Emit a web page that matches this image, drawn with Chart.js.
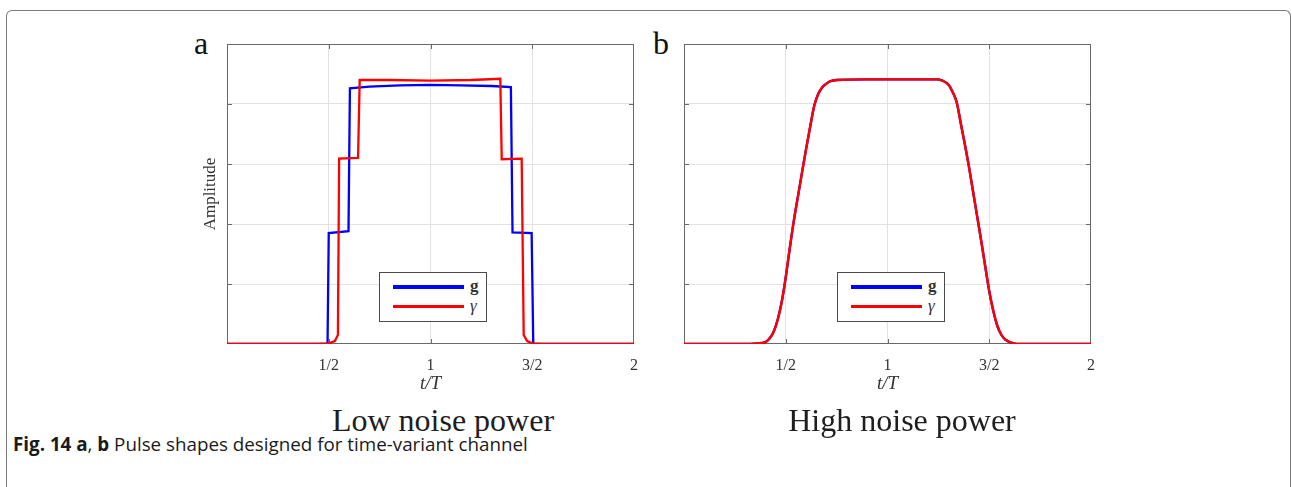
<!DOCTYPE html>
<html lang="en">
<head>
<meta charset="UTF-8">
<title>Pulse shapes designed for time-variant channel</title>
<script src="https://cdn.jsdelivr.net/npm/chart.js"></script>
<style>
    body {
        margin: 0; width: 1292px; height: 487px; overflow: hidden;
        background: #fff; position: relative;
        font-family: 'Liberation Serif', 'DejaVu Serif', serif;
    }
    .frame {
        position: absolute; left: 6px; top: 10px; width: 1283px; height: 520px;
        border: 1px solid #7a7a7a; border-bottom: none; border-radius: 6px 6px 0 0;
    }
    .panel { position: absolute; top: 34px; width: 470px; height: 366px; }
    .tag { position: absolute; top: 27px; font-size: 32px; line-height: 32px; color: #111; }
    .subtitle {
        position: absolute; top: 404px; width: 320px; text-align: center;
        font-size: 32px; line-height: 32px; color: #1e1e1e;
    }
    .legend {
        position: absolute; top: 272px; width: 106px; height: 48px;
        border: 1px solid #4a4a4a; background: #fff;
    }
    .legend .swatch { position: absolute; left: 13px; width: 71px; height: 0; }
    .legend .lab { position: absolute; left: 90px; font-size: 17px; line-height: 17px; color: #333; }
    .caption {
        position: absolute; left: 13px; top: 435px; white-space: nowrap;
        font-family: 'Open Sans', 'Noto Sans', sans-serif; font-size: 18.8px; line-height: 18.8px; color: #1a1a1a;
    }
    .caption b { font-weight: 700; }
</style>
</head>
<body>
<div class="frame"></div>

<div class="tag" style="left:194px;">a</div>
<div class="tag" style="left:653px;">b</div>

<div class="panel" style="left:180px;"><canvas id="lowNoise" width="470" height="366"></canvas></div>
<div class="panel" style="left:637px;"><canvas id="highNoise" width="470" height="366"></canvas></div>

<div class="legend" style="left:379px;">
    <span class="swatch" style="top:12px; border-top:4px solid #0000ff;"></span>
    <span class="lab" style="top:4px; font-weight:bold;">g</span>
    <span class="swatch" style="top:32px; border-top:3px solid #ff0000;"></span>
    <span class="lab" style="top:24px; font-style:italic;">γ</span>
</div>
<div class="legend" style="left:837px;">
    <span class="swatch" style="top:12px; border-top:4px solid #0000ff;"></span>
    <span class="lab" style="top:4px; font-weight:bold;">g</span>
    <span class="swatch" style="top:32px; border-top:3px solid #ff0000;"></span>
    <span class="lab" style="top:24px; font-style:italic;">γ</span>
</div>

<div class="subtitle" style="left:283px;">Low noise power</div>
<div class="subtitle" style="left:742px;">High noise power</div>

<div class="caption"><b>Fig. 14 a</b>, <b>b</b> Pulse shapes designed for time-variant channel</div>

<script>
// axis ticks
const xTickValues = [0, 0.5, 1, 1.5, 2];
const xTickLabels = ['', '1/2', '1', '3/2', '2'];
const yGridValues = [0, 1, 2, 3, 4, 5];

// low noise power: stepped pulses
const lowT_g   = [0, 0.494, 0.500, 0.597, 0.604, 0.70, 0.85, 1.00, 1.15, 1.30, 1.395, 1.403, 1.497, 1.505, 2];
const lowAmp_g = [0, 0,     1.85,  1.88,  4.26,  4.29, 4.31, 4.32, 4.31, 4.30, 4.28,  1.86,  1.85,  0,     0];

const lowT_gamma   = [0, 0.45, 0.50, 0.53, 0.545, 0.551, 0.644, 0.652, 0.80, 1.00, 1.20, 1.343, 1.350, 1.448, 1.458, 1.475, 1.50, 1.55, 2];
const lowAmp_gamma = [0, 0,    0.01, 0.05, 0.15,  3.09,  3.10,  4.40,  4.40, 4.39, 4.40, 4.42,  3.08,  3.09,  0.15,  0.05,  0.01, 0,    0];

// high noise power: smooth pulses (g and gamma almost coincide)
const highT   = [0, 0.30, 0.36, 0.40, 0.42, 0.44, 0.46, 0.48, 0.495, 0.52, 0.54, 0.56, 0.58, 0.60, 0.62, 0.64, 0.66, 0.68, 0.70, 0.72, 0.75, 0.90, 1.00, 1.10, 1.24, 1.27, 1.30, 1.32, 1.34, 1.36, 1.38, 1.40, 1.42, 1.44, 1.46, 1.48, 1.50, 1.52, 1.54, 1.56, 1.58, 1.62, 1.66, 2];
const highAmp_g     = [0, 0, 0.01, 0.03, 0.09, 0.20, 0.40, 0.70, 1.00, 1.60, 2.06, 2.46, 2.86, 3.25, 3.62, 3.97, 4.17, 4.28, 4.34, 4.38, 4.40, 4.41, 4.41, 4.41, 4.41, 4.39, 4.32, 4.20, 4.03, 3.68, 3.33, 2.96, 2.55, 2.14, 1.73, 1.30, 0.88, 0.55, 0.30, 0.15, 0.07, 0.01, 0, 0];
const highAmp_gamma = [0, 0, 0.01, 0.03, 0.09, 0.20, 0.40, 0.70, 1.00, 1.60, 2.06, 2.46, 2.86, 3.25, 3.62, 3.97, 4.17, 4.28, 4.34, 4.38, 4.40, 4.41, 4.41, 4.41, 4.41, 4.39, 4.32, 4.20, 4.03, 3.68, 3.33, 2.96, 2.55, 2.14, 1.73, 1.30, 0.88, 0.55, 0.30, 0.15, 0.07, 0.01, 0, 0];

const serif = "'Liberation Serif', 'DejaVu Serif', serif";
const toPoints = (ts, amps) => ts.map((t, i) => ({ x: t, y: amps[i] }));

// MATLAB-like box with inward tick marks
const axesBox = {
    id: 'axesBox',
    beforeDatasetsDraw(chart) {
        const { ctx, chartArea: a, scales: { x, y } } = chart;
        ctx.save();
        ctx.strokeStyle = '#6a6a6a';
        ctx.lineWidth = 1;
        ctx.strokeRect(a.left + 0.5, a.top + 0.5, a.width - 1, a.height - 1);
        ctx.beginPath();
        xTickValues.slice(1, -1).forEach(v => {
            const px = Math.round(x.getPixelForValue(v)) + 0.5;
            ctx.moveTo(px, a.bottom); ctx.lineTo(px, a.bottom - 5);
            ctx.moveTo(px, a.top); ctx.lineTo(px, a.top + 5);
        });
        yGridValues.slice(1, -1).forEach(v => {
            const py = Math.round(y.getPixelForValue(v)) + 0.5;
            ctx.moveTo(a.left, py); ctx.lineTo(a.left + 5, py);
            ctx.moveTo(a.right, py); ctx.lineTo(a.right - 5, py);
        });
        ctx.stroke();
        ctx.restore();
    }
};

function panelOptions(showYTitle) {
    const gridColor = (first, last) => c => (c.tick && (c.tick.value === first || c.tick.value === last)) ? 'rgba(0,0,0,0)' : '#e2e2e2';
    return {
        responsive: false,
        animation: false,
        layout: { padding: { top: 10, right: 10, left: 0, bottom: 0 } },
        plugins: { legend: { display: false }, tooltip: { enabled: false } },
        elements: { point: { radius: 0 } },
        scales: {
            x: {
                type: 'linear', min: 0, max: 2,
                afterBuildTicks: s => { s.ticks = xTickValues.map(v => ({ value: v })); },
                afterFit: s => { s.height = 56; },
                ticks: {
                    padding: 12, color: '#333',
                    font: { family: serif, size: 16 },
                    callback: v => xTickLabels[xTickValues.indexOf(v)]
                },
                grid: { color: gridColor(0, 2), drawTicks: false },
                border: { display: false },
                title: {
                    display: true, text: 't/T', color: '#333',
                    font: { family: serif, size: 19, style: 'italic' },
                    padding: { top: 0, bottom: 5 }
                }
            },
            y: {
                type: 'linear', min: 0, max: 5,
                afterBuildTicks: s => { s.ticks = yGridValues.map(v => ({ value: v })); },
                afterFit: s => { s.width = 47; },
                ticks: { display: false },
                grid: { color: gridColor(0, 5), drawTicks: false },
                border: { display: false },
                title: {
                    display: showYTitle, text: 'Amplitude', color: '#333',
                    font: { family: serif, size: 17 },
                    padding: { top: 20, bottom: 0 }
                }
            }
        }
    };
}

new Chart(document.getElementById('lowNoise'), {
    type: 'scatter',
    data: {
        datasets: [
            { label: 'γ', data: toPoints(lowT_gamma, lowAmp_gamma), showLine: true, borderColor: '#ff0000', borderWidth: 2.3, tension: 0 },
            { label: 'g', data: toPoints(lowT_g, lowAmp_g), showLine: true, borderColor: '#0000ff', borderWidth: 2.3, tension: 0 }
        ]
    },
    options: panelOptions(true),
    plugins: [axesBox]
});

new Chart(document.getElementById('highNoise'), {
    type: 'scatter',
    data: {
        datasets: [
            { label: 'γ', data: toPoints(highT, highAmp_gamma), showLine: true, borderColor: '#ff0000', borderWidth: 2.4, cubicInterpolationMode: 'monotone' },
            { label: 'g', data: toPoints(highT, highAmp_g), showLine: true, borderColor: '#0000ff', borderWidth: 2.4, cubicInterpolationMode: 'monotone' }
        ]
    },
    options: panelOptions(false),
    plugins: [axesBox]
});
</script>
</body>
</html>
